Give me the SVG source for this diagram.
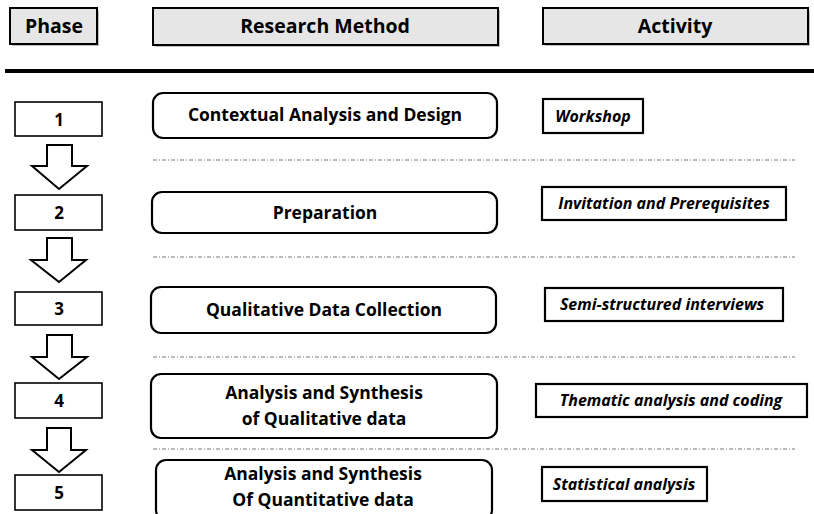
<svg xmlns="http://www.w3.org/2000/svg" width="814" height="514" viewBox="0 0 814 514">
<defs>
<style>
.hdr{fill:#e6e6e6;stroke:#000;stroke-width:2}
.shd{fill:#9a9a9a;opacity:0.6}
.ph{fill:#fff;stroke:#000;stroke-width:1.6}
.mb{fill:#fff;stroke:#000;stroke-width:2.2}
.ab{fill:#fff;stroke:#000;stroke-width:2.2}
.arr{fill:#fff;stroke:#000;stroke-width:2;stroke-linejoin:miter}
.sep{stroke:#777;stroke-width:1;stroke-dasharray:4 2 1 2;fill:none}
text{font-family:"Open Sans","Noto Sans","Liberation Sans",sans-serif;font-weight:bold;fill:#000;text-anchor:middle}
.ht{font-size:19.5px}
.pt{font-size:17px}
.mt{font-size:17.5px}
.at{font-size:16px;font-style:italic}
</style>
</defs>
<g id="header-phase">
<rect class="shd" x="12" y="10" width="87" height="36"/>
<rect class="hdr" x="10" y="8" width="87" height="36"/>
<text class="ht" x="54" y="33">Phase</text>
</g>
<g id="header-method">
<rect class="shd" x="155" y="10" width="345" height="37"/>
<rect class="hdr" x="153" y="8" width="345" height="37"/>
<text class="ht" x="325" y="33">Research Method</text>
</g>
<g id="header-activity">
<rect class="shd" x="545" y="10" width="265" height="36"/>
<rect class="hdr" x="543" y="8" width="265" height="36"/>
<text class="ht" x="675" y="33">Activity</text>
</g>
<line x1="5" y1="71" x2="814" y2="71" stroke="#000" stroke-width="4"/>

<g id="phase1"><rect class="ph" x="15" y="102" width="87" height="34"/><text class="pt" x="59" y="126">1</text></g>
<g id="phase2"><rect class="ph" x="15" y="195" width="87" height="35"/><text class="pt" x="59" y="219">2</text></g>
<g id="phase3"><rect class="ph" x="15" y="292" width="87" height="33"/><text class="pt" x="59" y="315">3</text></g>
<g id="phase4"><rect class="ph" x="15" y="383" width="87" height="35"/><text class="pt" x="59" y="407">4</text></g>
<g id="phase5"><rect class="ph" x="15" y="475" width="87" height="35"/><text class="pt" x="59" y="499">5</text></g>

<g id="method1"><rect class="mb" x="153" y="93" width="344" height="45" rx="10"/><text class="mt" x="325" y="121">Contextual Analysis and Design</text></g>
<g id="method2"><rect class="mb" x="152" y="192" width="345" height="41" rx="10"/><text class="mt" x="325" y="219">Preparation</text></g>
<g id="method3"><rect class="mb" x="151" y="287" width="345" height="46" rx="10"/><text class="mt" x="324" y="316">Qualitative Data Collection</text></g>
<g id="method4"><rect class="mb" x="151" y="374" width="346" height="64" rx="10"/><text class="mt" x="324" y="399">Analysis and Synthesis</text><text class="mt" x="324" y="425">of Qualitative data</text></g>
<g id="method5"><rect class="mb" x="156" y="460" width="336" height="60" rx="10"/><text class="mt" x="323" y="480">Analysis and Synthesis</text><text class="mt" x="323" y="506">Of Quantitative data</text></g>

<g id="activity1"><rect class="ab" x="543" y="99" width="100" height="34"/><text class="at" x="593" y="122">Workshop</text></g>
<g id="activity2"><rect class="ab" x="542" y="187" width="244" height="33"/><text class="at" x="664" y="209">Invitation and Prerequisites</text></g>
<g id="activity3"><rect class="ab" x="545" y="288" width="238" height="33"/><text class="at" x="662" y="310">Semi-structured interviews</text></g>
<g id="activity4"><rect class="ab" x="536" y="384" width="271" height="33"/><text class="at" x="671" y="406">Thematic analysis and coding</text></g>
<g id="activity5"><rect class="ab" x="542" y="467" width="165" height="34"/><text class="at" x="624" y="490">Statistical analysis</text></g>

<g id="connectors">
<polygon class="arr" points="47,145 72,145 72,166 87,166 59,189 32,166 47,166"/>
<polygon class="arr" points="47,238 72,238 72,260 86,260 59,282 31,260 47,260"/>
<polygon class="arr" points="47,335 72,335 72,357 87,357 59,379 32,357 47,357"/>
<polygon class="arr" points="47,428 71,428 71,450 86,450 59,472 32,450 47,450"/>
<line class="sep" x1="153" y1="160" x2="795" y2="160"/>
<line class="sep" x1="153" y1="257" x2="795" y2="257"/>
<line class="sep" x1="153" y1="357" x2="795" y2="357"/>
<line class="sep" x1="153" y1="449" x2="795" y2="449"/>
</g>
</svg>
